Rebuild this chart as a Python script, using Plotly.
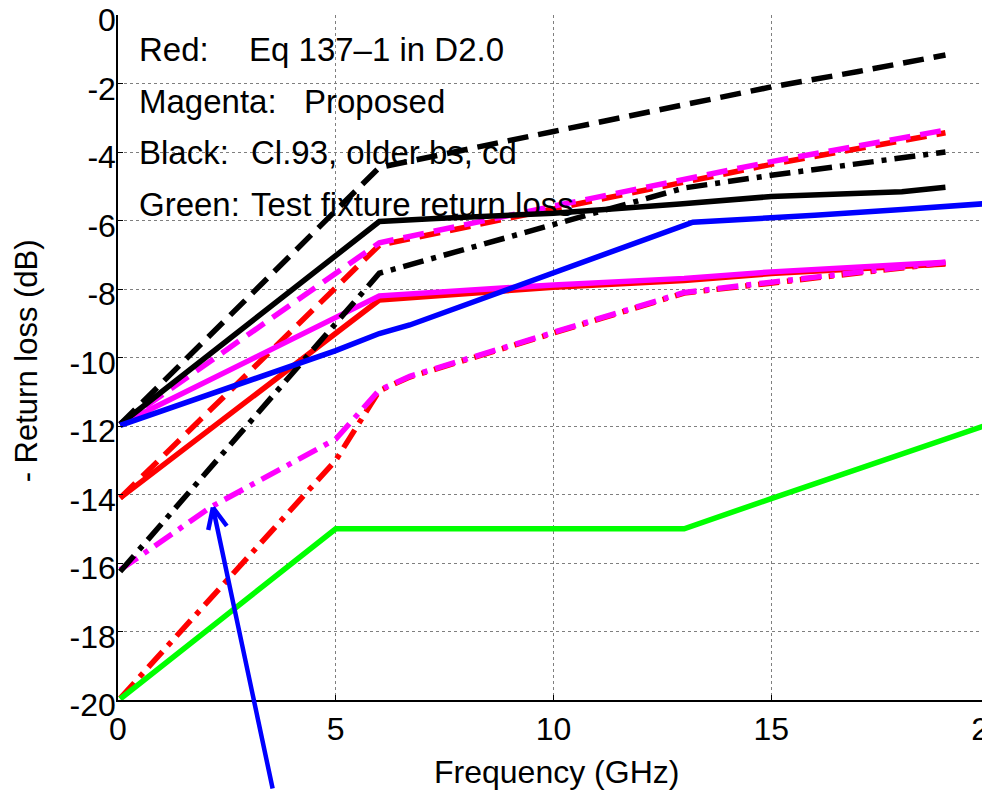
import plotly.graph_objects as go

# ---------------- data (frequency in GHz, -return loss in dB) ----------------
f_red_solid = [0.05, 6, 10, 13, 15, 19]
rl_red_solid = [-14.1, -8.32, -7.95, -7.75, -7.55, -7.27]

f_red_dash = [0.05, 6, 10, 13, 15, 19]
rl_red_dash = [-14.1, -6.72, -5.66, -4.9, -4.36, -3.44]

f_red_dashdot = [0.05, 5, 6, 6.7, 13, 15, 19]
rl_red_dashdot = [-19.95, -13.0, -10.97, -10.57, -8.12, -7.82, -7.24]

f_mag_solid = [0.05, 6, 10, 13, 15, 19]
rl_mag_solid = [-11.95, -8.2, -7.88, -7.69, -7.5, -7.22]

f_mag_dash = [0.05, 6, 10, 13, 15, 19]
rl_mag_dash = [-11.95, -6.65, -5.58, -4.82, -4.28, -3.36]

f_mag_dashdot = [0.05, 2.14, 5, 6, 6.7, 13, 15, 19]
rl_mag_dashdot = [-16.2, -14.36, -12.38, -10.95, -10.55, -8.1, -7.8, -7.22]

f_blk_solid = [0.05, 6, 7.3, 10, 12.9, 15, 18, 19]
rl_blk_solid = [-11.95, -6.03, -5.94, -5.79, -5.52, -5.3, -5.16, -5.03]

f_blk_dash = [0.05, 6, 10, 13, 15, 17, 19]
rl_blk_dash = [-11.95, -4.45, -3.4, -2.62, -2.1, -1.65, -1.17]

f_blk_dashdot = [0.05, 6, 13, 15, 19]
rl_blk_dashdot = [-16.25, -7.54, -5.05, -4.68, -4.0]

f_blue = [0.05, 3, 5, 6, 6.7, 13.2, 14.5, 16, 18, 19, 20]
rl_blue = [-11.98, -10.68, -9.8, -9.3, -9.05, -6.05, -5.97, -5.85, -5.68, -5.57, -5.5]

f_green = [0.05, 5, 13, 14, 15, 20]
rl_green = [-19.97, -15, -15, -14.55, -14.12, -11.95]

x_ticks = [0, 5, 10, 15, 20]
x_ticktext = ["0", "5", "10", "15", "20"]
y_ticks = [0, -2, -4, -6, -8, -10, -12, -14, -16, -18, -20]
y_ticktext = ["0", "-2", "-4", "-6", "-8", "-10", "-12", "-14", "-16", "-18", "-20"]

x_title = "Frequency (GHz)"
y_title = "- Return loss (dB)"
note_labels = ["Red:", "Magenta:", "Black:", "Green:"]
note_texts = ["Eq 137\u20131 in D2.0", "Proposed", "Cl.93, older bs, cd", "Test fixture return loss"]

RED = "#FF0000"
MAG = "#FF00FF"
BLK = "#000000"
BLUE = "#0000FF"
GREEN = "#00FF00"
DASH = "21px,10px"
DASHDOT = "21px,8px,5px,8px"
LW = 5.5

series = [
    (f_red_solid, rl_red_solid, RED, "solid"),
    (f_red_dash, rl_red_dash, RED, DASH),
    (f_red_dashdot, rl_red_dashdot, RED, DASHDOT),
    (f_mag_solid, rl_mag_solid, MAG, "solid"),
    (f_mag_dash, rl_mag_dash, MAG, DASH),
    (f_mag_dashdot, rl_mag_dashdot, MAG, DASHDOT),
    (f_blk_solid, rl_blk_solid, BLK, "solid"),
    (f_blk_dash, rl_blk_dash, BLK, DASH),
    (f_blk_dashdot, rl_blk_dashdot, BLK, DASHDOT),
    (f_blue, rl_blue, BLUE, "solid"),
    (f_green, rl_green, GREEN, "solid"),
]

fig = go.Figure()
for xs, ys, col, dash in series:
    fig.add_trace(go.Scatter(x=xs, y=ys, mode="lines",
                             line=dict(color=col, width=LW, dash=dash),
                             showlegend=False, hoverinfo="skip"))

FONT = "Liberation Sans, Arial, Helvetica, sans-serif"
TXT = dict(family=FONT, size=33, color="black")

annotations = []
row_y = [-1.0, -2.52, -4.01, -5.53]
desc_x = [2.96, 4.22, 3.01, 3.01]
for lab, txt, yy, dx in zip(note_labels, note_texts, row_y, desc_x):
    annotations.append(dict(x=0.44, y=yy, xref="x", yref="y", text=lab, showarrow=False,
                            xanchor="left", yanchor="middle", font=TXT))
    annotations.append(dict(x=dx, y=yy, xref="x", yref="y", text=txt, showarrow=False,
                            xanchor="left", yanchor="middle", font=TXT))

# axis titles
annotations.append(dict(x=0.503, y=-0.105, xref="paper", yref="paper", text=x_title,
                        showarrow=False, xanchor="center", yanchor="middle",
                        font=dict(family=FONT, size=32, color="black")))
annotations.append(dict(x=-0.104, y=0.495, xref="paper", yref="paper", text=y_title,
                        showarrow=False, xanchor="center", yanchor="middle", textangle=-90,
                        font=dict(family=FONT, size=31, color="black")))

# blue arrow pointing to the kink of the magenta dash-dot curve
tip_x, tip_y = 2.18, -14.38
for ax, ay in [(60, 300), (-5, 24), (15, 20)]:
    annotations.append(dict(x=tip_x, y=tip_y, xref="x", yref="y", text="",
                            showarrow=True, arrowhead=0, arrowwidth=4.5,
                            arrowcolor=BLUE, ax=ax, ay=ay, standoff=0, startstandoff=0))

# the page body adds an 8 px offset, so the figure is 8 px smaller and margins shifted
fig.update_layout(
    width=982, height=782,
    margin=dict(l=110, r=1, t=7, b=90, autoexpand=False),
    paper_bgcolor="white", plot_bgcolor="white",
    font=dict(family=FONT, size=31, color="black"),
    annotations=annotations,
    xaxis=dict(range=[0, 20], tickvals=x_ticks, ticktext=x_ticktext,
               ticks="inside", ticklen=5, tickcolor="black",
               showline=True, linecolor="black", linewidth=1.5,
               showgrid=True, gridcolor="#7f7f7f", griddash="dot", gridwidth=1,
               zeroline=False, ticklabelstandoff=0, automargin=False,
               ticklabeloverflow="allow",
               tickfont=dict(family=FONT, size=32, color="black")),
    yaxis=dict(range=[-20, 0], tickvals=y_ticks, ticktext=y_ticktext,
               ticks="inside", ticklen=5, tickcolor="black",
               showline=True, linecolor="black", linewidth=1.5,
               showgrid=True, gridcolor="#7f7f7f", griddash="dot", gridwidth=1,
               zeroline=False, ticklabelstandoff=-6, ticklabelshift=5, automargin=False,
               ticklabeloverflow="allow",
               tickfont=dict(family=FONT, size=32, color="black")),
)

fig.write_html("out.html")
